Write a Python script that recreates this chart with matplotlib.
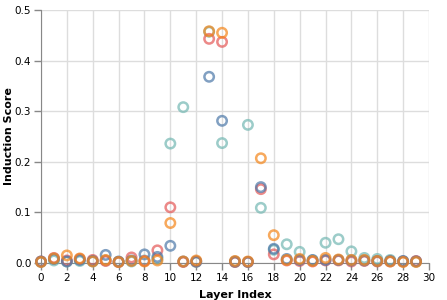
import numpy as np
import matplotlib
matplotlib.use('Agg')
from matplotlib import pyplot as plt

layers = list(range(30))

# induction scores per series
blueScores = [0.003, 0.008, 0.003, 0.006, 0.004, 0.016, 0.003, 0.005, 0.017, 0.012,
              0.034, 0.003, 0.003, 0.368, 0.281, 0.003, 0.002, 0.150, 0.028, 0.008,
              0.006, 0.006, 0.006, 0.006, 0.005, 0.005, 0.004, 0.004, 0.004, 0.003]
orangeScores = [0.002, 0.009, 0.015, 0.009, 0.003, 0.006, 0.002, 0.004, 0.003, 0.005,
                0.079, 0.003, 0.005, 0.458, 0.455, 0.004, 0.003, 0.207, 0.055, 0.006,
                0.008, 0.004, 0.010, 0.007, 0.006, 0.006, 0.004, 0.003, 0.002, 0.002]
redScores = [0.003, 0.010, 0.005, 0.008, 0.006, 0.004, 0.002, 0.011, 0.004, 0.025,
             0.110, 0.002, 0.003, 0.443, 0.437, 0.002, 0.002, 0.146, 0.017, 0.005,
             0.004, 0.003, 0.005, 0.005, 0.003, 0.004, 0.003, 0.003, 0.003, 0.004]
tealScores = [0.002, 0.005, 0.003, 0.004, 0.003, 0.005, 0.002, 0.003, 0.005, 0.008,
              0.236, 0.308, 0.002, 0.457, 0.237, 0.002, 0.273, 0.109, 0.026, 0.037,
              0.022, 0.005, 0.040, 0.047, 0.023, 0.010, 0.008, 0.006, 0.003, 0.003]

xTicks = list(range(0, 31, 2))
yTicks = [0.0, 0.1, 0.2, 0.3, 0.4, 0.5]


def plotScores():
  fig = plt.figure(figsize=(4.47, 3.00), dpi=100)
  ax = fig.add_axes([41/447., 37/300., 388/447., 253/300.])

  series = [(tealScores, '#72b7b2'), (redScores, '#e45756'),
            (blueScores, '#4c78a8'), (orangeScores, '#f58518')]
  for scores, clr in series:
    ax.scatter(layers, scores, s=46, facecolors='none', edgecolors=clr,
               linewidths=1.8, alpha=0.7, clip_on=False, zorder=3)

  ax.set_xlim(0, 30)
  ax.set_ylim(0, 0.5)
  ax.set_xticks(xTicks)
  ax.set_yticks(yTicks)
  ax.set_yticklabels(['%.1f' % v for v in yTicks])
  ax.grid(True, color='#dddddd', linewidth=1)
  ax.set_axisbelow(True)
  for side in ['top', 'right']:
    ax.spines[side].set_visible(False)
  for side in ['left', 'bottom']:
    ax.spines[side].set_color('#888888')
  ax.tick_params(colors='#888888', labelcolor='black', labelsize=7.5, length=5, width=1, pad=2)
  ax.set_xlabel('Layer Index', fontsize=8, fontweight='bold')
  ax.set_ylabel('Induction Score', fontsize=8, fontweight='bold')
  ax.yaxis.set_label_coords(-0.07, 0.5)
  ax.xaxis.set_label_coords(0.5, -0.105)

  fig.savefig('out.png', dpi=100)


if __name__ == '__main__':
  plotScores()
